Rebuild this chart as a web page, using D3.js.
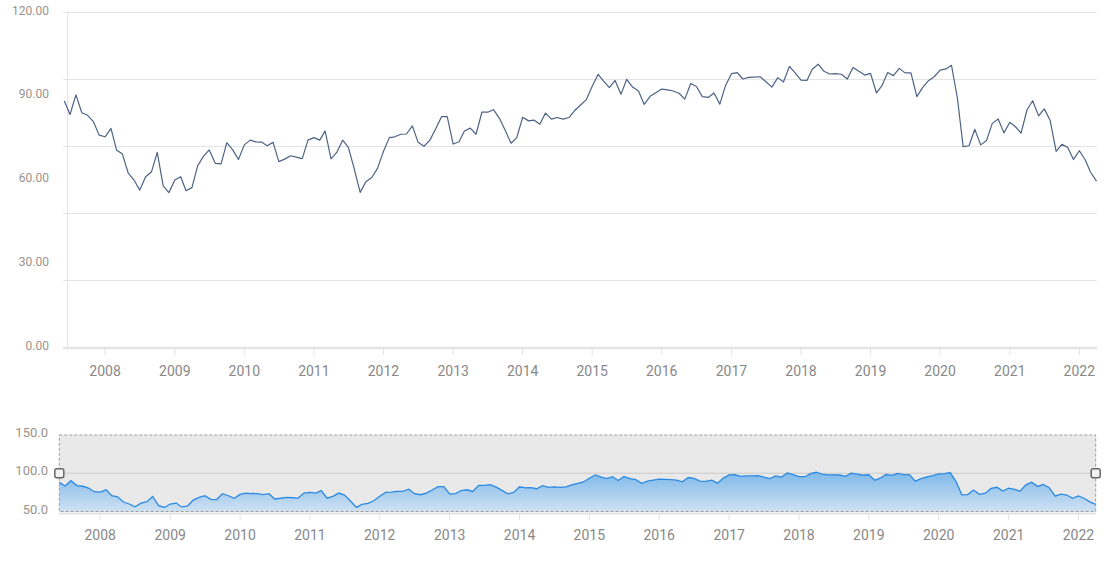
<!DOCTYPE html>
<html lang="en">
<head>
    <meta charset="UTF-8" />
    <title>Série mensal</title>
    <script src="https://d3js.org/d3.v7.min.js"></script>
    <style>
        body { margin: 0; background: #fff; }
        text { font-family: Roboto, "Noto Sans", sans-serif; }
        .grid { stroke: #e4e4e4; stroke-width: 1; }
        .ylab { fill: #9a928c; font-size: 12px; }
        .xlab { fill: #888; font-size: 14px; }
    </style>
</head>
<body>
    <div id="chart"></div>

    <script>
        var width = 1120, height = 572;

        // primeiro mês da série (mensal)
        const startMonth = new Date(2007, 5, 1);

        // valores, um por mês
        const values = [
            88.1, 83.3, 90.3, 83.9, 83.0, 80.7, 75.9, 75.3, 78.3, 70.6,
            69.1, 62.4, 59.8, 56.2, 61.0, 62.8, 69.7, 57.7, 55.3, 59.8,
            61.0, 56.0, 57.1, 64.9, 68.4, 70.6, 65.8, 65.6, 73.2, 70.6,
            67.2, 72.4, 74.1, 73.5, 73.4, 72.1, 73.3, 66.4, 67.3, 68.5,
            68.0, 67.5, 74.1, 75.0, 74.1, 77.4, 67.4, 69.7, 74.1, 71.5,
            63.8, 55.4, 59.2, 60.7, 64.0, 70.0, 75.0, 75.3, 76.2, 76.3,
            79.2, 73.3, 71.9, 74.1, 78.1, 82.5, 82.5, 72.7, 73.5, 77.4,
            78.4, 76.2, 84.1, 84.1, 85.0, 81.9, 77.6, 73.0, 75.0, 82.3,
            81.0, 81.3, 79.8, 83.8, 81.6, 82.2, 81.6, 82.2, 84.7, 86.7,
            88.6, 93.4, 97.7, 95.3, 92.9, 95.5, 90.5, 95.9, 93.1, 91.7,
            86.9, 89.8, 91.1, 92.4, 92.1, 91.7, 90.9, 88.8, 94.4, 93.3,
            89.7, 89.4, 91.0, 87.0, 93.7, 97.9, 98.3, 96.0, 96.6, 96.7,
            96.8, 95.0, 93.1, 96.5, 94.9, 100.5, 98.2, 95.6, 95.5, 99.5,
            101.3, 98.8, 97.8, 97.9, 97.7, 96.0, 100.1, 98.8, 97.4, 98.0,
            91.0, 93.5, 98.3, 97.2, 99.8, 98.2, 98.2, 89.7, 92.9, 95.4,
            96.8, 99.2, 99.6, 100.9, 89.1, 71.8, 72.1, 78.0, 72.4, 74.0,
            80.1, 81.7, 76.7, 80.5, 78.8, 76.6, 84.9, 88.2, 82.8, 85.3,
            81.1, 70.1, 72.6, 71.5, 67.2, 70.3, 67.0, 62.6, 59.4
        ];

        // eixos
        const gridTicks = [0, 24, 48, 72, 96, 120];
        const yLabels = [0, 30, 60, 90, 120];
        const miniLabels = [50, 100, 150];
        const years = d3.range(2008, 2023);

        const dates = values.map((v, i) => d3.timeMonth.offset(startMonth, i));
        const data = dates.map((d, i) => ({ date: d, value: values[i] }));

        let svg = d3.select("#chart")
            .append("svg")
            .attr("width", width)
            .attr("height", height);

        // ---------- gráfico principal ----------
        const x = d3.scaleTime()
            .domain(d3.extent(dates))
            .range([64.3, 1096.5]);

        const y = d3.scaleLinear()
            .domain([0, 120])
            .range([347, 12]);

        svg.append("g").selectAll("line")
            .data(gridTicks.filter(t => t > 0))
            .enter().append("line")
            .attr("class", "grid")
            .attr("x1", 63).attr("x2", 1097)
            .attr("y1", d => y(d) + 0.5).attr("y2", d => y(d) + 0.5);

        // eixo y (linha vertical)
        svg.append("line")
            .attr("x1", 67.5).attr("x2", 67.5)
            .attr("y1", y(120)).attr("y2", y(0))
            .attr("stroke", "#e4e4e4");

        // eixo x
        svg.append("line")
            .attr("x1", 63).attr("x2", 1097)
            .attr("y1", y(0) + 1).attr("y2", y(0) + 1)
            .attr("stroke", "#e4e4e4").attr("stroke-width", 2.5);

        svg.append("g").selectAll("line")
            .data(years)
            .enter().append("line")
            .attr("x1", d => x(new Date(d, 0, 1)))
            .attr("x2", d => x(new Date(d, 0, 1)))
            .attr("y1", y(0) + 2).attr("y2", y(0) + 8)
            .attr("stroke", "#e0e0e0");

        svg.append("g").selectAll("text")
            .data(years)
            .enter().append("text")
            .attr("class", "xlab")
            .attr("x", d => x(new Date(d, 0, 1)))
            .attr("y", 376)
            .attr("text-anchor", "middle")
            .text(d => d);

        svg.append("g").selectAll("text")
            .data(yLabels)
            .enter().append("text")
            .attr("class", "ylab")
            .attr("x", 49)
            .attr("y", d => y(d) + 2.5)
            .attr("text-anchor", "end")
            .text(d => d.toFixed(2));

        const line = d3.line()
            .x(d => x(d.date))
            .y(d => y(d.value));

        svg.append("path")
            .datum(data)
            .attr("d", line)
            .attr("fill", "none")
            .attr("stroke", "#4d6385")
            .attr("stroke-width", 1.2)
            .attr("stroke-linejoin", "round");

        // ---------- navegador (mini) ----------
        const x2 = d3.scaleTime()
            .domain(d3.extent(dates))
            .range([59.3, 1095.7]);

        const y2 = d3.scaleLinear()
            .domain([50, 150])
            .range([511.5, 435]);

        svg.append("rect")
            .attr("x", x2.range()[0]).attr("y", y2(150))
            .attr("width", x2.range()[1] - x2.range()[0])
            .attr("height", y2(50) - y2(150))
            .attr("fill", "#e9e9e9");

        svg.append("line")
            .attr("x1", x2.range()[0]).attr("x2", x2.range()[1])
            .attr("y1", y2(100)).attr("y2", y2(100))
            .attr("stroke", "#c9c9c9");

        const grad = svg.append("defs").append("linearGradient")
            .attr("id", "miniFill")
            .attr("x1", 0).attr("y1", 0).attr("x2", 0).attr("y2", 1);
        grad.append("stop").attr("offset", "0%").attr("stop-color", "#7fb9ea");
        grad.append("stop").attr("offset", "100%").attr("stop-color", "#cfe1f2");

        const area = d3.area()
            .x(d => x2(d.date))
            .y0(y2(50))
            .y1(d => y2(d.value));

        svg.append("path")
            .datum(data)
            .attr("d", area)
            .attr("fill", "url(#miniFill)");

        svg.append("path")
            .datum(data)
            .attr("d", d3.line().x(d => x2(d.date)).y(d => y2(d.value)))
            .attr("fill", "none")
            .attr("stroke", "#2a8ae2")
            .attr("stroke-width", 1.3);

        // borda tracejada da seleção
        svg.append("rect")
            .attr("x", x2.range()[0]).attr("y", y2(150))
            .attr("width", x2.range()[1] - x2.range()[0])
            .attr("height", y2(50) - y2(150))
            .attr("fill", "none")
            .attr("stroke", "#9c9c9c")
            .attr("stroke-dasharray", "3,2");

        // eixo x do mini
        svg.append("line")
            .attr("x1", x2.range()[0]).attr("x2", x2.range()[1])
            .attr("y1", 513.5).attr("y2", 513.5)
            .attr("stroke", "#e2e2e2").attr("stroke-width", 2);

        svg.append("g").selectAll("line")
            .data(years)
            .enter().append("line")
            .attr("x1", d => x2(new Date(d, 0, 1)))
            .attr("x2", d => x2(new Date(d, 0, 1)))
            .attr("y1", 514).attr("y2", 520)
            .attr("stroke", "#e0e0e0");

        svg.append("g").selectAll("text")
            .data(years)
            .enter().append("text")
            .attr("class", "xlab")
            .attr("x", d => x2(new Date(d, 0, 1)))
            .attr("y", 540)
            .attr("text-anchor", "middle")
            .text(d => d);

        svg.append("g").selectAll("text")
            .data(miniLabels)
            .enter().append("text")
            .attr("class", "ylab")
            .attr("x", 48)
            .attr("y", d => y2(d) + 2)
            .attr("text-anchor", "end")
            .style("font-size", "13px")
            .text(d => d.toFixed(1));

        // alças do navegador
        svg.append("g").selectAll("rect")
            .data(x2.range())
            .enter().append("rect")
            .attr("x", d => d - 4.5)
            .attr("y", y2(100) - 4.5)
            .attr("width", 9).attr("height", 9)
            .attr("rx", 2)
            .attr("fill", "#f2f2f2")
            .attr("stroke", "#666")
            .attr("stroke-width", 1.5);
    </script>
</body>
</html>
